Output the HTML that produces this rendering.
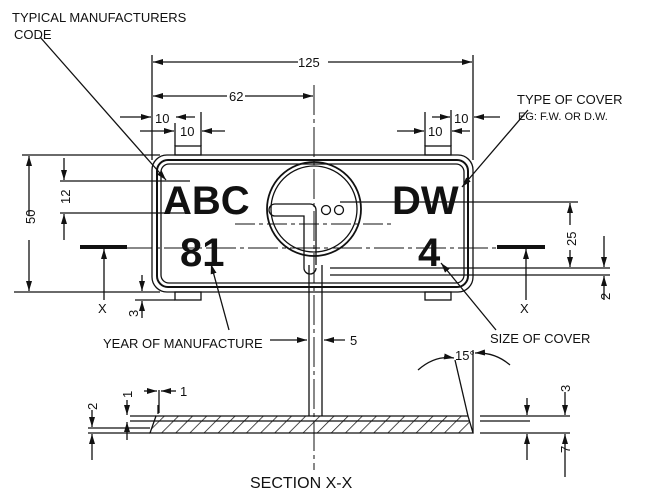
<!DOCTYPE html>
<html><head><style>
body{margin:0;background:#fff}
svg{display:block}
text{font-family:"Liberation Sans",sans-serif;fill:#111}
.t{font-size:13px}
.b{font-weight:bold;font-size:40px}
</style></head><body>
<svg width="649" height="495" viewBox="0 0 649 495" xmlns="http://www.w3.org/2000/svg">
<defs>
<marker id="a" viewBox="0 0 10 6" refX="10" refY="3" markerWidth="10" markerHeight="6" orient="auto-start-reverse" markerUnits="userSpaceOnUse"><path d="M0,0L10,3L0,6z" fill="#111"/></marker>
<pattern id="h" width="10" height="10" patternUnits="userSpaceOnUse" patternTransform="rotate(45)"><line x1="0" y1="0" x2="0" y2="10" stroke="#111" stroke-width="1.5"/></pattern>
</defs>
<g stroke="#111" fill="none" stroke-width="1.3">
<!-- plate -->
<rect x="152" y="155" width="321" height="137" rx="15"/>
<rect x="157" y="160" width="311" height="127" rx="11" stroke-width="2"/>
<rect x="161" y="164" width="303" height="119" rx="8"/>
<!-- lugs -->
<rect x="175" y="146" width="26" height="9"/><rect x="425" y="146" width="26" height="9"/>
<rect x="175" y="292" width="26" height="8"/><rect x="425" y="292" width="26" height="8"/>
<!-- circle -->
<circle cx="314" cy="209" r="47" stroke-width="1.8"/>
<circle cx="314" cy="209" r="43"/>
<path d="M275,204 H310 a6,6 0 0 1 6,6 V265 M275,204 a6,6 0 0 0 0,12 H304 V268 a6,6 0 0 0 12,0" />
<circle cx="326" cy="210" r="4.5"/><circle cx="339" cy="210" r="4.5"/>
<!-- centerlines -->
<line x1="314" y1="85" x2="314" y2="470" stroke-dasharray="30,4,4,4" stroke-width="1"/>
<line x1="80" y1="248" x2="545" y2="248" stroke-dasharray="30,4,4,4" stroke-width="1"/>
<line x1="235" y1="224" x2="395" y2="224" stroke-dasharray="20,4,4,4" stroke-width="1"/>
<line x1="80" y1="247" x2="127" y2="247" stroke-width="4"/>
<line x1="497" y1="247" x2="545" y2="247" stroke-width="4"/>
<line x1="104" y1="300" x2="104" y2="249" marker-end="url(#a)"/>
<line x1="526" y1="300" x2="526" y2="249" marker-end="url(#a)"/>
<!-- slot lines -->
<line x1="309" y1="265" x2="309" y2="416"/><line x1="322" y1="265" x2="322" y2="416"/>
<line x1="270" y1="340" x2="307" y2="340" marker-end="url(#a)"/>
<line x1="345" y1="340" x2="324" y2="340" marker-end="url(#a)"/>
<!-- top dims -->
<line x1="152" y1="55" x2="152" y2="160"/><line x1="473" y1="55" x2="473" y2="160"/>
<line x1="153" y1="62" x2="298" y2="62" marker-start="url(#a)"/><line x1="328" y1="62" x2="472" y2="62" marker-end="url(#a)"/>
<line x1="153" y1="96" x2="227" y2="96" marker-start="url(#a)"/><line x1="245" y1="96" x2="313" y2="96" marker-end="url(#a)"/>
<line x1="175" y1="123" x2="175" y2="146"/><line x1="201" y1="112" x2="201" y2="146"/>
<line x1="120" y1="117" x2="151" y2="117" marker-end="url(#a)"/><line x1="195" y1="117" x2="176" y2="117" marker-end="url(#a)"/>
<line x1="140" y1="131" x2="174" y2="131" marker-end="url(#a)"/><line x1="225" y1="131" x2="202" y2="131" marker-end="url(#a)"/>
<line x1="425" y1="112" x2="425" y2="146"/><line x1="451" y1="110" x2="451" y2="146"/>
<line x1="397" y1="131" x2="424" y2="131" marker-end="url(#a)"/><line x1="470" y1="131" x2="452" y2="131" marker-end="url(#a)"/>
<line x1="432" y1="117" x2="450" y2="117" marker-end="url(#a)"/><line x1="500" y1="117" x2="474" y2="117" marker-end="url(#a)"/>
<!-- left dims -->
<line x1="22" y1="155" x2="160" y2="155"/><line x1="14" y1="292" x2="160" y2="292"/>
<line x1="29" y1="215" x2="29" y2="156" marker-end="url(#a)"/><line x1="29" y1="240" x2="29" y2="291" marker-end="url(#a)"/>
<line x1="60" y1="181" x2="190" y2="181"/><line x1="60" y1="213" x2="190" y2="213"/>
<line x1="64" y1="158" x2="64" y2="180" marker-end="url(#a)"/><line x1="64" y1="240" x2="64" y2="214" marker-end="url(#a)"/>
<line x1="135" y1="300" x2="175" y2="300"/>
<line x1="142" y1="275" x2="142" y2="291" marker-end="url(#a)"/><line x1="142" y1="318" x2="142" y2="301" marker-end="url(#a)"/>
<!-- right dims -->
<line x1="340" y1="202" x2="578" y2="202"/><line x1="330" y1="268" x2="610" y2="268"/><line x1="330" y1="275" x2="610" y2="275"/>
<line x1="570" y1="225" x2="570" y2="203" marker-end="url(#a)"/><line x1="570" y1="250" x2="570" y2="267" marker-end="url(#a)"/>
<line x1="604" y1="236" x2="604" y2="267" marker-end="url(#a)"/><line x1="604" y1="300" x2="604" y2="276" marker-end="url(#a)"/>
<!-- leaders -->
<line x1="40" y1="37" x2="166" y2="180" marker-end="url(#a)"/>
<line x1="528" y1="110" x2="462" y2="187" marker-end="url(#a)"/>
<line x1="229" y1="330" x2="211" y2="264" marker-end="url(#a)"/>
<line x1="496" y1="330" x2="441" y2="263" marker-end="url(#a)"/>
<!-- section -->
<polygon points="156,416 468,416 473,433 150,433" fill="url(#h)"/>
<line x1="156" y1="421" x2="470" y2="421"/>
<line x1="88" y1="433" x2="150" y2="433"/><line x1="130" y1="416" x2="156" y2="416"/><line x1="130" y1="421" x2="156" y2="421"/><line x1="88" y1="428" x2="150" y2="428"/>
<line x1="480" y1="416" x2="570" y2="416"/><line x1="480" y1="421" x2="530" y2="421"/><line x1="480" y1="433" x2="570" y2="433"/>
<line x1="473" y1="350" x2="473" y2="433"/><line x1="468" y1="416" x2="455" y2="360"/>
<line x1="158" y1="405" x2="158" y2="414"/><line x1="159" y1="390" x2="159" y2="413"/>
<line x1="144" y1="391" x2="157" y2="391" marker-end="url(#a)"/><line x1="176" y1="391" x2="161" y2="391" marker-end="url(#a)"/>
<line x1="127" y1="400" x2="127" y2="415" marker-end="url(#a)"/><line x1="127" y1="440" x2="127" y2="422" marker-end="url(#a)"/>
<line x1="92" y1="410" x2="92" y2="427" marker-end="url(#a)"/><line x1="92" y1="460" x2="92" y2="434" marker-end="url(#a)"/>
<line x1="527" y1="398" x2="527" y2="415" marker-end="url(#a)"/><line x1="527" y1="460" x2="527" y2="434" marker-end="url(#a)"/>
<line x1="565" y1="392" x2="565" y2="415" marker-end="url(#a)"/><line x1="565" y1="477" x2="565" y2="434" marker-end="url(#a)"/>
<path d="M418,370 Q435,355 454,358" marker-end="url(#a)"/>
<path d="M510,365 Q495,352 475,353" marker-end="url(#a)"/>
</g>
<text class="b" x="163" y="214">ABC</text>
<text class="b" x="180" y="266">81</text>
<text class="b" x="392" y="214">DW</text>
<text class="b" x="418" y="266">4</text>
<g class="t">
<text x="12" y="22">TYPICAL MANUFACTURERS</text>
<text x="14" y="39">CODE</text>
<text x="298" y="67">125</text>
<text x="229" y="101">62</text>
<text x="155" y="123">10</text><text x="180" y="136">10</text>
<text x="428" y="136">10</text><text x="454" y="123">10</text>
<text x="517" y="104">TYPE OF COVER</text>
<text x="518" y="120" style="font-size:11px">EG: F.W. OR D.W.</text>
<text x="98" y="313">X</text><text x="520" y="313">X</text>
<text x="103" y="348">YEAR OF MANUFACTURE</text>
<text x="350" y="345">5</text>
<text x="490" y="343">SIZE OF COVER</text>
<text x="455" y="360">15°</text>
<text x="180" y="396">1</text>
<text x="250" y="488" style="font-size:16px">SECTION X-X</text>
<text transform="translate(35,224) rotate(-90)">50</text>
<text transform="translate(70,204) rotate(-90)">12</text>
<text transform="translate(576,246) rotate(-90)">25</text>
<text transform="translate(610,300) rotate(-90)">2</text>
<text transform="translate(138,317) rotate(-90)">3</text>
<text transform="translate(97,410) rotate(-90)">2</text>
<text transform="translate(132,398) rotate(-90)">1</text>
<text transform="translate(570,392) rotate(-90)">3</text>
<text transform="translate(570,453) rotate(-90)">7</text>
</g>
</svg>
</body></html>
